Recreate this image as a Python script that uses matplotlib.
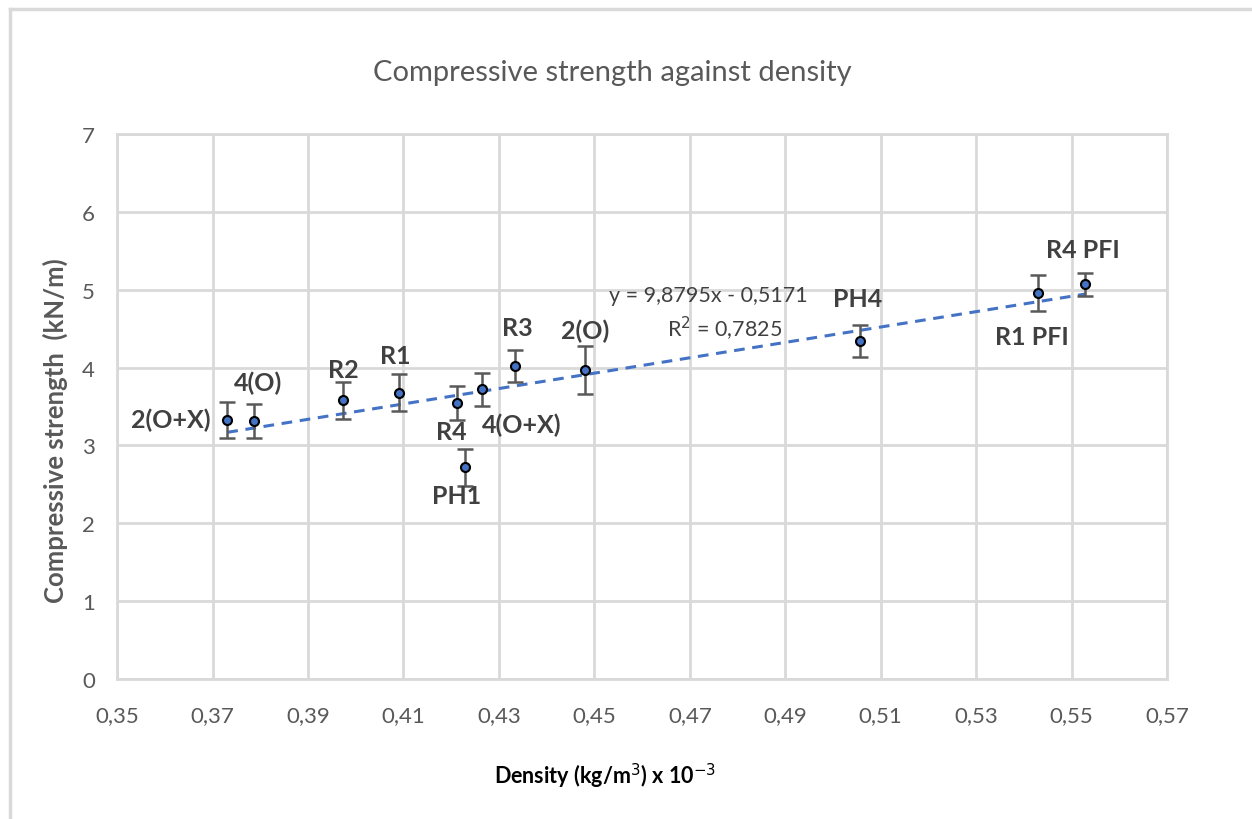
import matplotlib.pyplot as plt
from matplotlib.lines import Line2D
from matplotlib.ticker import FuncFormatter

plt.rcParams['font.family'] = ['Lato', 'DejaVu Sans']

# density (kg/m3 x 10^-3) and compressive strength (kN/m) per sample
labels = ["2(O+X)", "4(O)", "R2", "R1", "R4", "PH1", "4(O+X)", "R3", "2(O)",
          "PH4", "R1 PFI", "R4 PFI"]
density = [0.3731, 0.3787, 0.3973, 0.4090, 0.4212, 0.4228, 0.4264, 0.4334,
           0.4481, 0.5057, 0.5430, 0.5528]
strength = [3.33, 3.31, 3.58, 3.68, 3.55, 2.72, 3.72, 4.02, 3.97, 4.34,
            4.96, 5.07]
strength_err = [0.23, 0.22, 0.24, 0.24, 0.22, 0.24, 0.21, 0.20, 0.31, 0.21,
                0.23, 0.15]

# linear trend line
slope = 9.8795
intercept = -0.5171
r_squared = 0.7825

# label offsets in pixels (dx, dy) and alignment
label_pos = {
    "2(O+X)": (-17, 0, "right"),
    "4(O)": (4, 39, "center"),
    "R2": (0, 31, "center"),
    "R1": (-3, 37, "center"),
    "R4": (-6, -29, "center"),
    "PH1": (-8, -28, "center"),
    "4(O+X)": (40, -35, "center"),
    "R3": (2, 39, "center"),
    "2(O)": (0, 40, "center"),
    "PH4": (-3, 43, "center"),
    "R1 PFI": (-6, -44, "center"),
    "R4 PFI": (-2, 35, "center"),
}

fig = plt.figure(figsize=(12.52, 8.2), dpi=100)
ax = fig.add_axes([0.0935, 0.1707, 0.8387, 0.6646])

grid_col = "#d9d9d9"
ax.set_xlim(0.35, 0.57)
ax.set_ylim(0, 7)
ax.set_xticks([0.35 + 0.02 * i for i in range(12)])
ax.set_yticks(range(8))
ax.xaxis.set_major_formatter(FuncFormatter(lambda v, p: f"{v:.2f}".replace(".", ",")))
ax.grid(True, color=grid_col, linewidth=2)
ax.set_axisbelow(True)
for s in ax.spines.values():
    s.set_color(grid_col)
    s.set_linewidth(2)
ax.tick_params(length=0, labelsize=16, colors="#595959")
ax.tick_params(axis="x", pad=19)
ax.tick_params(axis="y", pad=16)

# trend line
x0, x1 = min(density), max(density)
ax.plot([x0, x1], [slope * x0 + intercept, slope * x1 + intercept],
        linestyle=(0, (3.5, 2.5)), color="#4472c4", linewidth=2.2, zorder=2)

ax.errorbar(density, strength, yerr=strength_err, fmt="none",
            ecolor="#595959", elinewidth=1.8, capsize=6, capthick=1.8, zorder=3)
ax.plot(density, strength, "o", markersize=6.5, markerfacecolor="#4472c4",
        markeredgecolor="black", markeredgewidth=1.5, zorder=4)

for name, xv, yv in zip(labels, density, strength):
    dx, dy, ha = label_pos[name]
    ax.annotate(name, (xv, yv), xytext=(dx, dy), textcoords="offset pixels",
                ha=ha, va="center", fontsize=18, fontweight="bold",
                color="#404040", zorder=5)

ax.text(0.4738, 4.93, f"y = {slope:.4f}x - {abs(intercept):.4f}".replace(".", ","),
        ha="center", va="center", fontsize=15.5, color="#404040")
ax.text(0.4773, 4.51, f"R$^2$ = {r_squared:.4f}".replace(".", ","),
        ha="center", va="center", fontsize=15.5, color="#404040")

fig.text(612 / 1252, 1 - 73 / 820, "Compressive strength against density",
         ha="center", va="center", fontsize=21, color="#595959")
fig.text(55 / 1252, 1 - 431 / 820, "Compressive strength  (kN/m)",
         ha="center", va="center", rotation=90, fontsize=18.5,
         fontweight="bold", color="#595959")
fig.text(605 / 1252, 1 - 776 / 820, "Density (kg/m$^3$) x 10$^{-3}$",
         ha="center", va="center", fontsize=15.5, fontweight="bold",
         color="black")

# outer frame lines
fig.add_artist(Line2D([10 / 1252, 10 / 1252], [0, 1 - 10 / 820],
                      transform=fig.transFigure, color=grid_col, linewidth=2.5))
fig.add_artist(Line2D([10 / 1252, 1], [1 - 10 / 820, 1 - 10 / 820],
                      transform=fig.transFigure, color=grid_col, linewidth=2.5))

fig.savefig("out.png", dpi=100)
